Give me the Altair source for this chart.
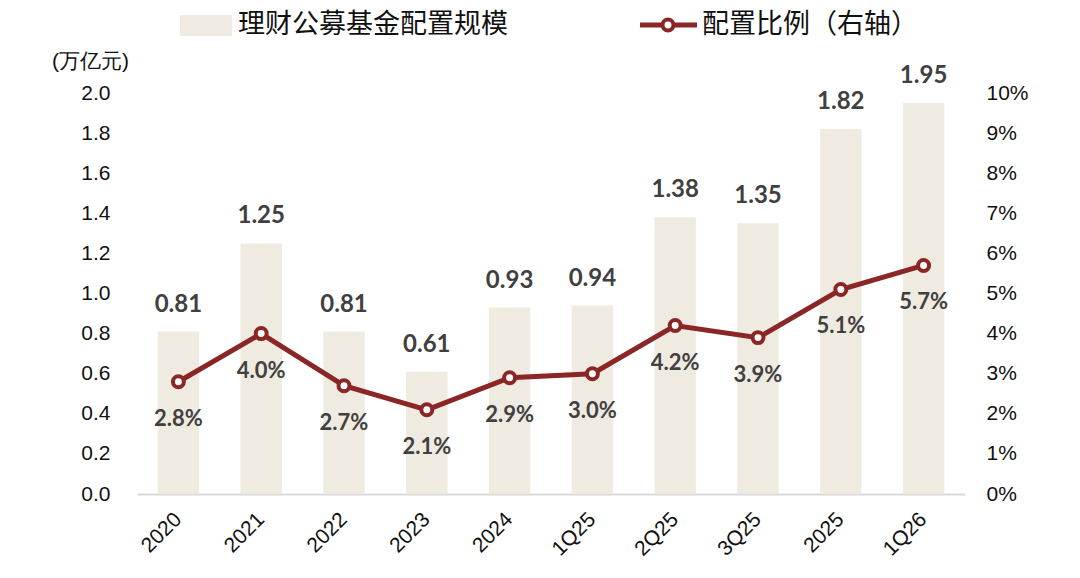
import altair as alt
import pandas as pd

categories = ["2020", "2021", "2022", "2023", "2024", "1Q25", "2Q25", "3Q25", "2025", "1Q26"]
scale_values = [0.81, 1.25, 0.81, 0.61, 0.93, 0.94, 1.38, 1.35, 1.82, 1.95]
ratio_values = [2.8, 4.0, 2.7, 2.1, 2.9, 3.0, 4.2, 3.9, 5.1, 5.7]
left_ticks = [0.0, 0.2, 0.4, 0.6, 0.8, 1.0, 1.2, 1.4, 1.6, 1.8, 2.0]
right_ticks = [0, 1, 2, 3, 4, 5, 6, 7, 8, 9, 10]

bar_name = "理财公募基金配置规模"
line_name = "配置比例（右轴）"
unit_label = "(万亿元)"

BAR_COLOR = "#F0EBE1"
LINE_COLOR = "#8B2626"
LABEL_COLOR = "#404040"
AXIS_FONT = "Liberation Sans"
CJK_FONT = "Noto Sans CJK SC"
NUM_FONT = "Lato"

df = pd.DataFrame({
    "cat": categories,
    "scale": scale_values,
    "ratio": ratio_values,
})
df["scale_lbl"] = [f"{v:.2f}" for v in scale_values]
df["ratio_lbl"] = [f"{v:.1f}%" for v in ratio_values]

W, H = 828, 401

x_enc = alt.X(
    "cat:N", sort=categories, title=None,
    scale=alt.Scale(paddingInner=0.5, paddingOuter=0.25),
    axis=alt.Axis(labelAngle=-45, labelAlign="right", labelBaseline="middle",
                  labelPadding=22, labelOffset=0, ticks=False,
                  domainColor="#d9d9d9", domainWidth=2,
                  labelFont=AXIS_FONT, labelFontSize=21, labelColor="#111111"),
)

y_left = alt.Y(
    "scale:Q",
    scale=alt.Scale(domain=[0, 2]),
    axis=alt.Axis(values=left_ticks, format=".1f", grid=False, domain=False, ticks=False,
                  labelPadding=27, labelFont=AXIS_FONT, labelFontSize=21, labelColor="#111111",
                  title=unit_label, titleAngle=0, titleX=-47, titleY=-32,
                  titleAlign="center", titleBaseline="middle",
                  titleFont=AXIS_FONT, titleFontSize=21, titleFontWeight="normal",
                  titleColor="#111111"),
)

bars = alt.Chart(df).mark_bar(color=BAR_COLOR).encode(x=x_enc, y=y_left)
bar_text = alt.Chart(df).mark_text(
    font=NUM_FONT, fontSize=24, fontWeight="bold", color=LABEL_COLOR,
    baseline="middle", dy=-27,
).encode(x=x_enc, y=y_left, text="scale_lbl:N")
left_layer = alt.layer(bars, bar_text)

y_right = alt.Y(
    "ratio:Q",
    scale=alt.Scale(domain=[0, 10]),
    axis=alt.Axis(orient="right", values=right_ticks, labelExpr="datum.value + '%'",
                  grid=False, domain=False, ticks=False, labelPadding=21,
                  labelFont=AXIS_FONT, labelFontSize=21, labelColor="#111111", title=None),
)

line = alt.Chart(df).mark_line(color=LINE_COLOR, strokeWidth=5).encode(x=x_enc, y=y_right)
pts = alt.Chart(df).mark_point(
    shape="circle", filled=True, fill="white", stroke=LINE_COLOR, strokeWidth=4,
    size=120, opacity=1,
).encode(x=x_enc, y=y_right)
pct_text = alt.Chart(df).mark_text(
    font=NUM_FONT, fontSize=22, fontWeight="bold", color=LABEL_COLOR,
    baseline="middle", dy=37,
).encode(x=x_enc, y=y_right, text="ratio_lbl:N")
right_layer = alt.layer(line, pts, pct_text)

# Legend (drawn manually above the plot)
leg1 = pd.DataFrame({"t": [bar_name]})
leg2 = pd.DataFrame({"t": [line_name]})
leg_rect = alt.Chart(leg1).mark_rect(color=BAR_COLOR).encode(
    x=alt.value(43), x2=alt.value(95), y=alt.value(-78), y2=alt.value(-57))
leg_text1 = alt.Chart(leg1).mark_text(
    font=CJK_FONT, fontSize=27, color="#111111", align="left", baseline="middle",
).encode(x=alt.value(101), y=alt.value(-68), text="t:N")
leg_line = alt.Chart(leg2).mark_rule(color=LINE_COLOR, strokeWidth=5).encode(
    x=alt.value(503), x2=alt.value(560), y=alt.value(-68))
leg_pt = alt.Chart(leg2).mark_point(
    shape="circle", filled=True, fill="white", stroke=LINE_COLOR, strokeWidth=4,
    size=120, opacity=1,
).encode(x=alt.value(531), y=alt.value(-68))
leg_text2 = alt.Chart(leg2).mark_text(
    font=CJK_FONT, fontSize=27, color="#111111", align="left", baseline="middle",
).encode(x=alt.value(565), y=alt.value(-68), text="t:N")

chart = alt.layer(
    left_layer, right_layer, leg_rect, leg_text1, leg_line, leg_pt, leg_text2
).resolve_scale(y="independent").properties(
    width=W, height=H,
    autosize=alt.AutoSizeParams(type="none"),
    padding={"left": 129, "top": 85, "right": 99, "bottom": 76},
).configure(background="white").configure_view(stroke=None)

chart.save("out.html", embed_options={"renderer": "svg", "actions": False})
